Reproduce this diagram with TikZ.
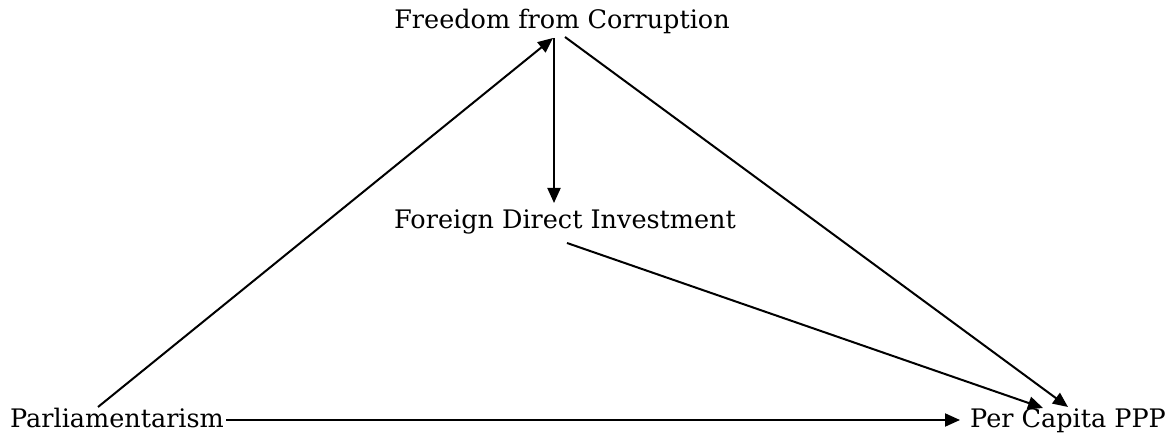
\documentclass[tikz,border=0pt]{standalone}
\usepackage{fontspec}
\setmainfont{DejaVu Serif}
\usetikzlibrary{arrows.meta}
\begin{document}
\begin{tikzpicture}[x=1pt,y=1pt,
  lbl/.style={inner sep=0pt, font=\fontsize{25.5}{30}\selectfont},
  arr/.style={line width=2pt, -{Triangle[length=15pt,width=13pt]}}]
\useasboundingbox (0,0) rectangle (1169,436);
\node[lbl, anchor=base] (free) at (562,407) {Freedom from Corruption};
\node[lbl, anchor=base] (fdi) at (565,207) {Foreign Direct Investment};
\node[lbl, anchor=base west] (par) at (10,9) {Parliamentarism};
\node[lbl, anchor=base west] (ppp) at (970,9) {Per Capita PPP};
\coordinate (a1s) at (98,29);
\coordinate (a1e) at (553,398);
\coordinate (vs) at (554,398);
\coordinate (ve) at (554,233);
\coordinate (fps) at (565,399);
\coordinate (fpe) at (1068,29);
\coordinate (dps) at (567,193);
\coordinate (dpe) at (1043,28);
\draw[arr] (a1s) -- (a1e);
\draw[arr] (vs) -- (ve);
\draw[arr] (fps) -- (fpe);
\draw[arr] (dps) -- (dpe);
\draw[arr] ([xshift=2pt,yshift=7pt]par.base east) -- ([xshift=-10pt,yshift=7pt]ppp.base west);
\end{tikzpicture}
\end{document}
